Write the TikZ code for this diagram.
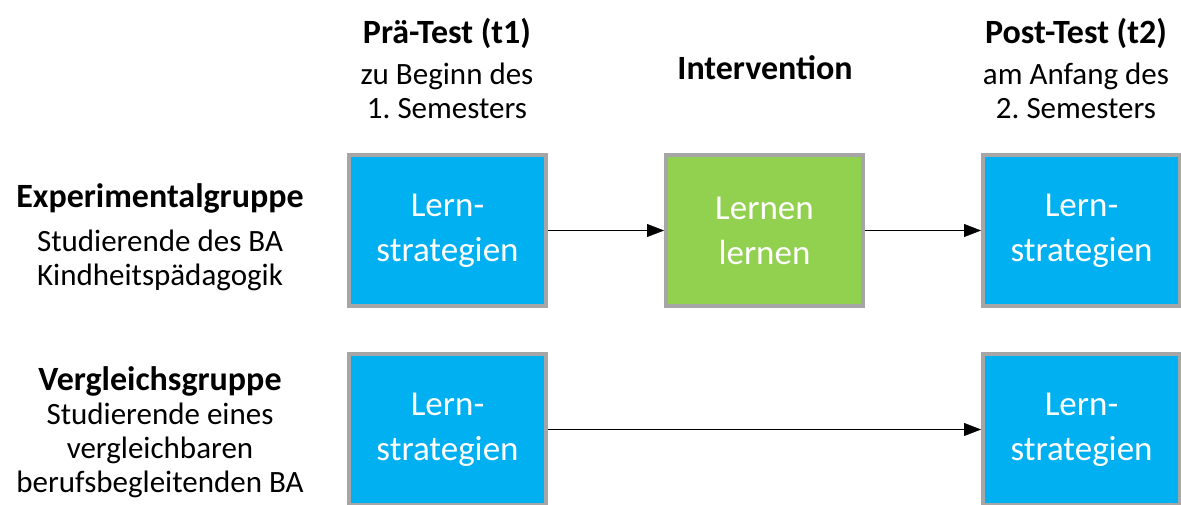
\documentclass[tikz,border=0pt]{standalone}
\usepackage{fontspec}
\setmainfont{Carlito}
\usetikzlibrary{arrows.meta}
\definecolor{boxblue}{HTML}{00B0F0}
\definecolor{boxgreen}{HTML}{92D050}
\definecolor{boxgray}{HTML}{A6A6A6}
\tikzset{
->,
>={Triangle[length=17pt,width=13pt]},
line width=1.4pt,
node distance=317pt,
every node/.style={align=center},
testbox/.style={draw=boxgray, line width=4pt, fill=boxblue, text=white,
  minimum width=197pt, minimum height=151pt,
  font=\fontsize{35}{45}\selectfont},
interbox/.style={testbox, fill=boxgreen},
head/.style={font=\fontsize{31}{34}\selectfont},
}
\newcommand{\titel}[1]{{\fontsize{34}{34}\selectfont\bfseries #1}}
\frenchspacing

\begin{document}
\begin{tikzpicture}[x=1pt,y=-1pt]
    \clip (0,0) rectangle (1181,505);
    \node[testbox] (pre1) at (447.5,230.5) {Lern-\\strategien};
    \node[interbox] (int1) [right of=pre1] {Lernen\\lernen};
    \node[testbox] (post1) [right of=int1] {Lern-\\strategien};
    \node[testbox] (pre2) [below of=pre1, node distance=199pt] {Lern-\\strategien};
    \node[testbox] (post2) [below of=post1, node distance=199pt] {Lern-\\strategien};
    %kopfzeile
    \node[head] (tpre) at (447,69) {\titel{Prä-Test (t1)}\\[7pt]zu Beginn des\\1. Semesters};
    \node[head] (tint) at (765,68) {\titel{Intervention}};
    \node[head] (tpost) at (1076,69) {\titel{Post-Test (t2)}\\[7pt]am Anfang des\\2. Semesters};
    %gruppen links
    \node[head] (gexp) at (160,237) {\titel{Experimentalgruppe}\\[10pt]Studierende des BA\\Kindheitspädagogik};
    \node[head] (gver) at (160,432) {\titel{Vergleichsgruppe}\\Studierende eines\\vergleichbaren\\berufsbegleitenden BA};
    \draw (pre1) -- (int1);
    \draw (int1) -- (post1);
    \draw (pre2) -- (post2);
\end{tikzpicture}
\end{document}
